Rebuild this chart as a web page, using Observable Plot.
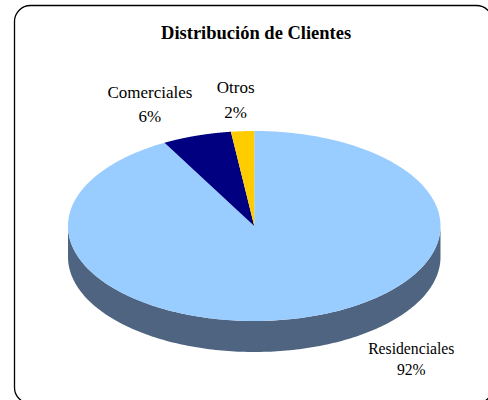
<!DOCTYPE html>
<html><head><meta charset="utf-8">
<script src="https://cdn.jsdelivr.net/npm/d3@7"></script>
<script src="https://cdn.jsdelivr.net/npm/@observablehq/plot@0.6"></script>
<style>html,body{margin:0;padding:0;background:#fff;overflow:hidden}svg{display:block}</style>
</head><body><script>
const titleText = "Distribución de Clientes";
const categories = ["Residenciales", "Comerciales", "Otros"];
const shares = [92, 6, 2];
const colors = ["#99CCFF", "#000080", "#FFCC00"];
const sideColor = "#4F6480";
const depth = 31 / 95;
// label anchors in the pie's unit coordinates (name line, percent line)
const labelX = [0.843, -0.56, -0.1];
const nameY = [-1.295, 1.41, 1.455];
const pctY = [-1.52, 1.155, 1.19];

const total = d3.sum(shares);
const slices = [];
let cumulative = 0;
categories.forEach((name, i) => {
  const a0 = cumulative / total * 2 * Math.PI;
  cumulative += shares[i];
  const a1 = cumulative / total * 2 * Math.PI;
  slices.push({name, x: 0, y: 0});
  d3.range(0, 361).map(k => a0 + (a1 - a0) * k / 360).forEach(a => {
    slices.push({name, x: Math.sin(a), y: Math.cos(a)});
  });
});
const lower = d3.range(90, 271).map(d => d * Math.PI / 180);
const side = [
  ...lower.map(a => ({x: Math.sin(a), y: Math.cos(a)})),
  ...lower.slice().reverse().map(a => ({x: Math.sin(a), y: Math.cos(a) - depth}))
];
const labels = categories.flatMap((name, i) => [
  {text: name, x: labelX[i], y: nameY[i]},
  {text: shares[i] + "%", x: labelX[i], y: pctY[i]}
]);
const bottomLabels = labels.slice(0, 2);
const topLabels = labels.slice(2);

const chart = Plot.plot({
  width: 488, height: 400,
  marginLeft: 14, marginTop: 5, marginRight: -4, marginBottom: -3,
  x: {domain: [-1, 1], range: [67.5, 440], axis: null},
  y: {domain: [-1, 1], range: [320.5, 130.5], axis: null},
  color: {domain: categories, range: colors},
  style: {background: "#fff"},
  marks: [
    Plot.frame({rx: 16, stroke: "#000", strokeWidth: 1.3, fill: "none"}),
    Plot.line(side, {x: "x", y: "y", fill: sideColor, stroke: "none"}),
    Plot.line(slices, {x: "x", y: "y", z: "name", fill: "name", stroke: "none"}),
    Plot.text(bottomLabels, {x: "x", y: "y", text: "text", fontFamily: "Liberation Serif", fontSize: 15.7, fill: "#000"}),
    Plot.text(topLabels, {x: "x", y: "y", text: "text", fontFamily: "Liberation Serif", fontSize: 17, fill: "#000"}),
    Plot.text([titleText], {x: [0.01], y: [2.03], text: d => d, fontFamily: "Liberation Serif", fontWeight: "bold", fontSize: 18.5, fill: "#000"})
  ]
});
document.body.appendChild(chart);
</script></body></html>
